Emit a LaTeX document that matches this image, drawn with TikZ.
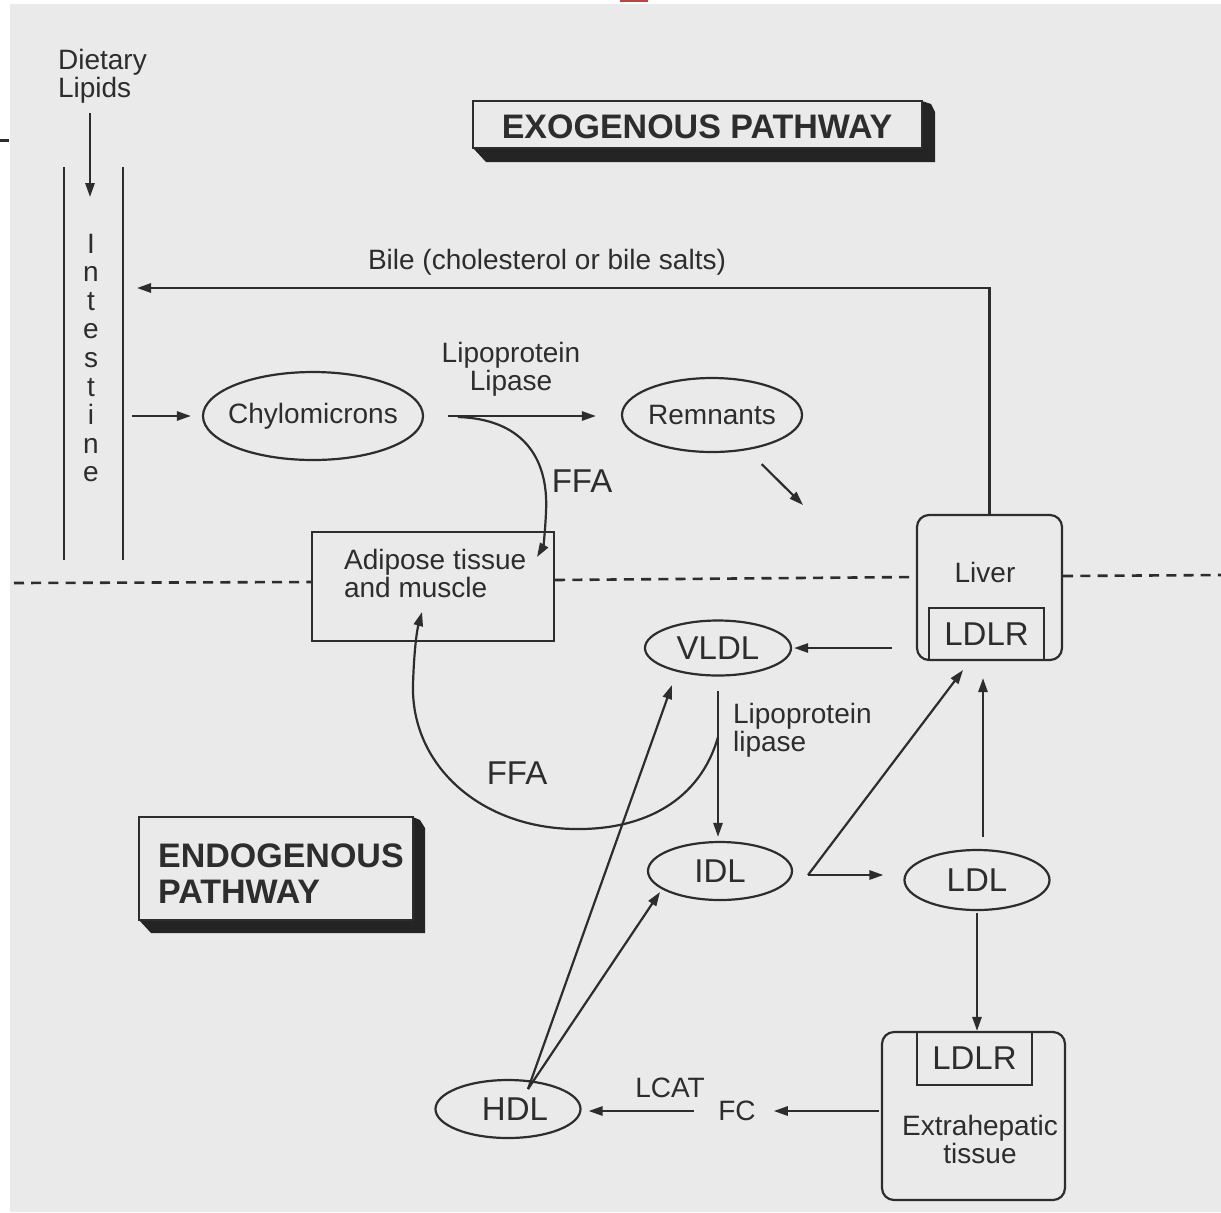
\documentclass[tikz,border=0pt]{standalone}
\usepackage{fontspec}
\setmainfont{Liberation Sans}
\usetikzlibrary{shapes.geometric,arrows.meta}
\definecolor{bg}{RGB}{234,234,234}
\definecolor{ink}{RGB}{45,45,45}
\definecolor{shadowc}{RGB}{36,36,36}
\begin{document}
\begin{tikzpicture}[x=0.5pt,y=-0.5pt,line width=1.1pt,color=ink,
  arr/.style={-{Triangle[length=7pt,width=4.6pt]}},
  txt/.style={font=\fontsize{14}{14}\selectfont,inner sep=0pt},
  acr/.style={font=\fontsize{16.5}{18}\selectfont,inner sep=0pt},
  ttl/.style={font=\fontsize{17}{18}\selectfont\bfseries,inner sep=0pt},
  oval/.style={ellipse,draw,inner sep=0pt},
  box/.style={rectangle,draw,inner sep=0pt},
  rbox/.style={rectangle,draw,rounded corners=6pt,inner sep=0pt},
  divider/.style={dash pattern=on 5pt off 3.6pt,line width=1.3pt}]
% background (scan margin + page)
\fill[white] (0,0) rectangle (1221,1212);
\fill[bg] (10,4) rectangle (1221,1212);
\useasboundingbox (0,0) rectangle (1221,1212);
\fill[ink] (0,139) rectangle (9,142);
\fill[red!45!gray] (620,0) rectangle (648,2);

% ---------- titles ----------
\fill[shadowc] (473,148) -- (486,162) -- (935,162) -- (935,112) -- (931,104) -- (922,101) -- (922,148) -- cycle;
\node[box,fill=bg,minimum width=224.5pt,minimum height=23.5pt] (exobox) at (697.5,124.5) {};
\node[ttl] (exo) at (697,127) {EXOGENOUS PATHWAY};

\fill[shadowc] (139,920) -- (151,933) -- (425,933) -- (425,828) -- (420,820) -- (413,817) -- (413,920) -- cycle;
\node[box,fill=bg,minimum width=137pt,minimum height=51.5pt] (endobox) at (276,868.5) {};
\node[ttl,align=left,anchor=west] (endo) at (157,874) {ENDOGENOUS\\PATHWAY};

% ---------- intestine ----------
\node[txt,align=left,anchor=west] (diet) at (57,76) {Dietary\\Lipids};
\coordinate (dstart) at (90,113);
\coordinate (dtip) at (90,197);
\draw[arr] (dstart) -- (dtip);
\coordinate (iltop) at (64,167);
\coordinate (ilbot) at (64,560);
\coordinate (irtop) at (123,167);
\coordinate (irbot) at (123,560);
\draw (iltop) -- (ilbot);
\draw (irtop) -- (irbot);
\foreach \l [count=\i] in {I,n,t,e,s,t,i,n,e}
  \node[txt,anchor=base] (int\i) at (91,{253+28.6*(\i-1)}) {\l};

% ---------- nodes ----------
\node[oval,txt,minimum width=110pt,minimum height=44pt] (chylo) at (313,416) {\makebox[0pt]{Chylomicrons}};
\node[oval,txt,minimum width=90pt,minimum height=37pt] (rem) at (712,415) {\makebox[0pt]{Remnants}};
\node[box,minimum width=121pt,minimum height=54.5pt] (adipose) at (433,586.5) {};
\node[txt,align=left,anchor=west] (adtext) at (343,573) {Adipose tissue\\and muscle};
\node[rbox,minimum width=72.5pt,minimum height=72.5pt] (liver) at (989.5,587.5) {};
\node[txt] (livertext) at (985,572) {Liver};
\node[box,acr,minimum width=57.5pt,minimum height=26pt] (lldlr) at (986.5,634) {LDLR};
\node[oval,acr,minimum width=73pt,minimum height=27.5pt] (vldl) at (718,648) {\makebox[0pt]{VLDL}};
\node[oval,acr,minimum width=72pt,minimum height=29pt] (idl) at (720,871) {\makebox[0pt]{IDL}};
\node[oval,acr,minimum width=72.5pt,minimum height=30pt] (ldl) at (977,880) {\makebox[0pt]{LDL}};
\node[oval,acr,minimum width=72.5pt,minimum height=29pt] (hdl) at (508,1109) {\makebox[0pt]{\hspace{7pt}HDL}};
\node[rbox,minimum width=91.5pt,minimum height=84pt] (extra) at (973.5,1116) {};
\node[box,acr,minimum width=57.5pt,minimum height=26.5pt] (xldlr) at (974.5,1058.5) {LDLR};
\node[txt,align=center] (extext) at (980,1139) {Extrahepatic\\tissue};
\node[txt] (fc) at (737,1111) {FC};

% ---------- labels ----------
\node[txt] (bile) at (547,262) {Bile (cholesterol or bile salts)};
\node[txt,align=center,font=\fontsize{14}{13}\selectfont] (lpl1) at (511,369) {Lipoprotein\\Lipase};
\node[acr] (ffa1) at (582,481) {FFA};
\node[txt,align=left,anchor=west] (lpl2) at (732,730) {Lipoprotein\\lipase};
\node[acr] (ffa2) at (517,773) {FFA};
\node[txt] (lcat) at (670,1088) {LCAT};

% ---------- divider ----------
\draw[divider] (14,583) -- (adipose.west |- 0,582);
\draw[divider] (adipose.east |- 0,580) -- (liver.west |- 0,577);
\draw[divider] (liver.east |- 0,576) -- (1221,575);

% ---------- connectors ----------
\coordinate (bilein) at (137,288);
\draw[arr] (liver.north) |- (bilein);
\draw[arr,shorten <=4.5pt,shorten >=5.5pt] (irbot |- chylo.west) -- (chylo.west);
\draw[arr,shorten <=12pt,shorten >=12.5pt] (chylo.east) -- (rem.west |- chylo.east);
\coordinate (ffa1s) at (458,417);
\coordinate (ffa1e) at (537,557);
\draw[arr] (ffa1s) .. controls (520,419) and (549,455) .. (546,512) .. controls (545,535) and (543,547) .. (ffa1e);
\coordinate (livin) at (803,505);
\draw[arr,shorten <=10pt] (rem) -- (livin);

\draw[arr,shorten <=12pt,shorten >=1pt] (liver.west |- vldl) -- (vldl.east);
\draw[arr,shorten <=7pt,shorten >=2pt] (vldl.south) -- (vldl.south |- idl.north);
\coordinate (ffa2s) at (718,737);
\coordinate (ffa2e) at (422,612);
\draw[arr] (ffa2s) .. controls (700,800) and (645,830) .. (575,829) .. controls (480,828) and (411,765) .. (413,685) .. controls (414,650) and (417,630) .. (ffa2e);

\coordinate (idlc) at (808,875);
\coordinate (lvtip) at (963,670);
\draw[arr,shorten >=10pt] (idlc) -- (ldl.west |- idlc);
\draw[arr] (idlc) -- (lvtip);
\draw[arr,shorten <=6pt,shorten >=8.5pt] ([xshift=3pt]ldl.north) -- ([xshift=3pt]ldl.north |- liver.south);
\draw[arr,shorten <=1pt] (ldl.south) -- (ldl.south |- xldlr.north);

\coordinate (hdltop) at (528,1089);
\coordinate (vtip) at (672,685);
\coordinate (itip) at (660,892);
\draw[arr] (hdltop) -- (vtip);
\draw[arr] (hdltop) -- (itip);

\draw[arr,shorten <=1pt,shorten >=8.5pt] (extra.west |- fc) -- (fc.east);
\draw[arr,shorten <=11.5pt,shorten >=3.5pt] (fc.west) -- (hdl.east |- fc.west);
\end{tikzpicture}
\end{document}
